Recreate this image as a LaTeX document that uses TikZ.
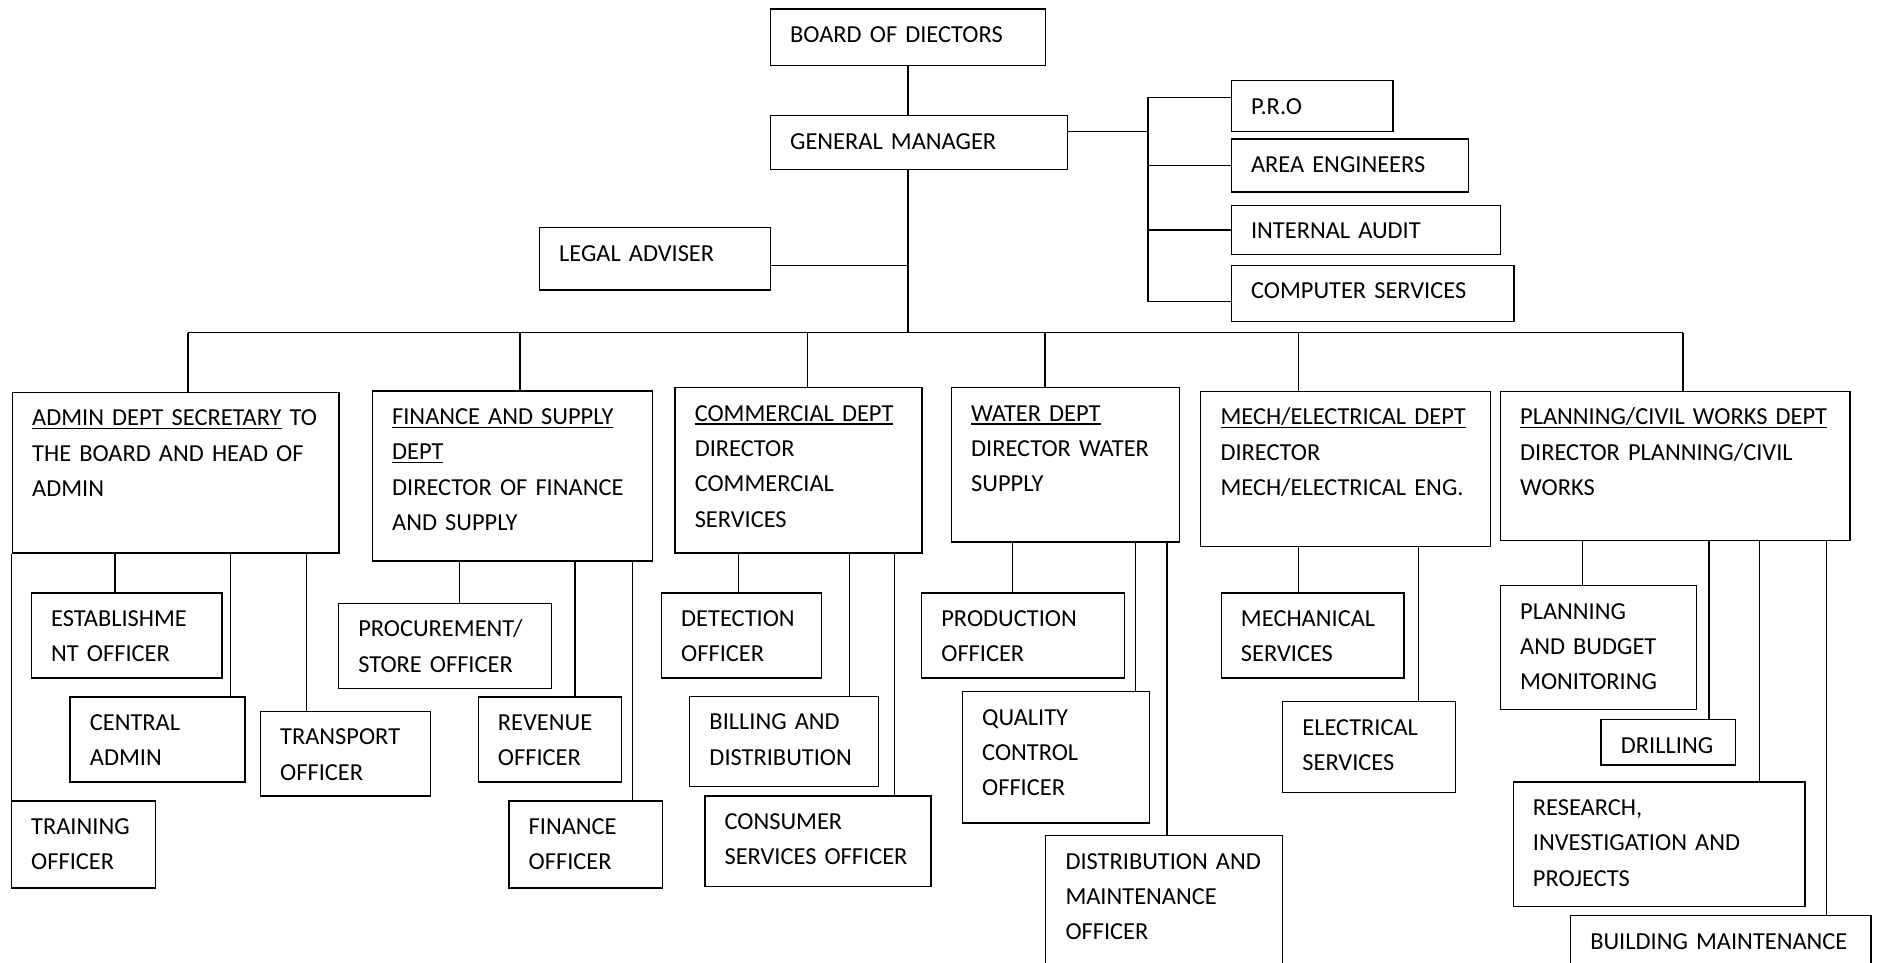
\documentclass[tikz,border=0pt]{standalone}
\usepackage{fontspec}
\setmainfont{Carlito}
\usetikzlibrary{calc}
\newsavebox{\hdbox}
\newcommand{\hd}[1]{\leavevmode\sbox{\hdbox}{#1}\rlap{\rule[-2.4pt]{\wd\hdbox}{0.9pt}}\usebox{\hdbox}}

\begin{document}
\begin{tikzpicture}[x=0.03cm, y=-0.03cm,
    box/.style  = {draw, line width=1pt, anchor=north west, inner sep=0pt,
                   font=\fontsize{17.4}{25.2}\selectfont, text height=0.84cm,
                   execute at begin node={\raggedright\leftskip=0.495cm\relax}},
    sz/.style 2 args = {text width=#1*0.03cm, text depth=(#2-28)*0.03cm},
    link/.style = {line width=0.9pt}
  ]
  \useasboundingbox (0,0) rectangle (1568,804);

  % top of the chart
  \node[box, sz={230}{47}]   (bod)   at (643,7)      {BOARD OF DIECTORS};
  \node[box, sz={248}{45}]   (gm)    at (643,96)     {GENERAL MANAGER};
  \node[box, sz={193}{52}]   (la)    at (450,189.6)  {LEGAL ADVISER};
  \node[box, sz={135}{42.6}] (pro)   at (1028,66.8)  {P.R.O};
  \node[box, sz={198}{44.2}] (area)  at (1028,115.6) {AREA ENGINEERS};
  \node[box, sz={225}{41.2}] (audit) at (1028,171)   {INTERNAL AUDIT};
  \node[box, sz={236}{47.2}] (comp)  at (1028,221)   {COMPUTER SERVICES};

  % departments
  \node[box, sz={272.8}{134.2}] (admin) at (9.8,327.2)
       {\hd{ADMIN DEPT SECRETARY} TO\\THE BOARD AND HEAD OF\\ADMIN};
  \node[box, sz={234}{142}]     (fin)   at (310.5,326.1)
       {\hd{FINANCE AND SUPPLY}\\\hd{DEPT}\\DIRECTOR OF FINANCE\\AND SUPPLY};
  \node[box, sz={206.3}{138.1}] (comm)  at (563.3,323.3)
       {\hd{COMMERCIAL DEPT}\\DIRECTOR\\COMMERCIAL\\SERVICES};
  \node[box, sz={190.3}{128.9}] (water) at (794.2,323.3)
       {\hd{WATER DEPT}\\DIRECTOR WATER\\SUPPLY};
  \node[box, sz={242.1}{129.5}] (mech)  at (1002.5,326.4)
       {\hd{MECH/ELECTRICAL DEPT}\\DIRECTOR\\MECH/ELECTRICAL ENG.};
  \node[box, sz={292.2}{124.7}] (plan)  at (1252.8,326.4)
       {\hd{PLANNING/CIVIL WORKS DEPT}\\DIRECTOR PLANNING/CIVIL\\WORKS};

  % sections
  \node[box, sz={159.1}{71.1}] (estab)  at (25.7,494.8)  {ESTABLISHME\\NT OFFICER};
  \node[box, sz={146}{70.8}]   (cadmin) at (58,581.7)    {CENTRAL\\ADMIN};
  \node[box, sz={142}{70.8}]   (transp) at (217,593.7)   {TRANSPORT\\OFFICER};
  \node[box, sz={120.3}{72.8}] (train)  at (9,668.5)     {TRAINING\\OFFICER};
  \node[box, sz={177.8}{71}]   (proc)   at (282.2,503.5) {PROCUREMENT/\\STORE OFFICER};
  \node[box, sz={119.9}{70.8}] (rev)    at (398.9,581.7) {REVENUE\\OFFICER};
  \node[box, sz={128.3}{72.7}] (finoff) at (424.6,668.6) {FINANCE\\OFFICER};
  \node[box, sz={133.7}{71.1}] (detect) at (552,494.8)   {DETECTION\\OFFICER};
  \node[box, sz={157.9}{75.2}] (bill)   at (575.6,581.2) {BILLING AND\\DISTRIBUTION};
  \node[box, sz={188.9}{75.7}] (cons)   at (588.2,664.2) {CONSUMER\\SERVICES OFFICER};
  \node[box, sz={169.5}{71.1}] (prod)   at (769.3,494.8) {PRODUCTION\\OFFICER};
  \node[box, sz={156.2}{109.7}] (qual)  at (803.4,577.3) {QUALITY\\CONTROL\\OFFICER};
  \node[box, sz={197.9}{140}]  (dist)   at (873,697.6)   {DISTRIBUTION AND\\MAINTENANCE\\OFFICER};
  \node[box, sz={152.6}{71.1}] (mechs)  at (1019.6,494.8) {MECHANICAL\\SERVICES};
  \node[box, sz={144.4}{75.8}] (elec)   at (1070.9,585.6) {ELECTRICAL\\SERVICES};
  \node[box, sz={163.7}{103.3}] (pbm)   at (1252.8,488.7) {PLANNING\\AND BUDGET\\MONITORING};
  \node[box, sz={112.2}{37.8}] (drill)  at (1337,600.7)  {DRILLING};
  \node[box, sz={243.9}{104.4}] (res)   at (1263.5,652.5) {RESEARCH,\\INVESTIGATION AND\\PROJECTS};
  \node[box, sz={251}{70}]     (build)  at (1311.4,764.4) {BUILDING MAINTENANCE};

  \coordinate (busl)  at (157,278);
  \coordinate (busr)  at (1406,278);
  \coordinate (spine) at (959,0);

  % board, manager and staff
  \draw[link] (bod.south) -- (bod.south |- gm.north);
  \draw[link] (bod.south |- gm.south) -- (bod.south |- busl);
  \draw[link] ($(la.east)+(0,5.5)$) coordinate (lae) -- (lae -| bod.south);
  \draw[link] ($(gm.east)+(0,-9.3)$) coordinate (gme) -- (gme -| spine);
  \draw[link] ($(pro.west)+(0,-7)$) coordinate (prow) -- (prow -| spine)
              -- ($(comp.west -| spine)+(0,6.6)$) -- ($(comp.west)+(0,6.6)$);
  \draw[link] (area.west)  -- (area.west -| spine);
  \draw[link] (audit.west) -- (audit.west -| spine);

  % departments off the bus
  \draw[link] (busl) -- (busr);
  \foreach \d/\x in {admin/157, fin/434.4, comm/674.8, water/873, mech/1084.6, plan/1406}
    \draw[link] (\x,0 |- busl) -- (\d.north -| \x,0);

  % sections under each department
  \draw[link] (admin.south west) -- (admin.south west |- train.north);
  \foreach \up/\down/\x in {admin/estab/96, admin/cadmin/192.7, admin/transp/255.8,
      fin/proc/383.7, fin/rev/480.4, fin/finoff/528.6,
      comm/detect/617, comm/bill/709.6, comm/cons/747.4,
      water/prod/846, water/qual/948.3, water/dist/974.9,
      mech/mechs/1084.6, mech/elec/1185.2,
      plan/pbm/1322.2, plan/drill/1427.6, plan/res/1470, plan/build/1525.6}
    \draw[link] (\up.south -| \x,0) -- (\down.north -| \x,0);
\end{tikzpicture}
\end{document}
